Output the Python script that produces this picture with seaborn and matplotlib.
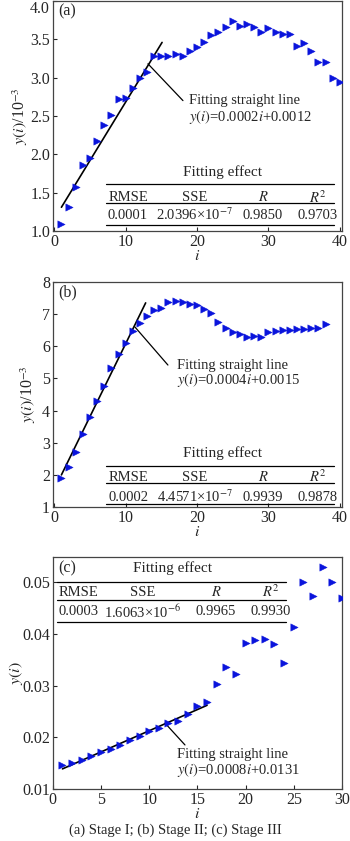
import numpy as np
import pandas as pd
import matplotlib
matplotlib.use("Agg")
import matplotlib.pyplot as plt
import seaborn as sns

# ==================== data ====================
i_a = list(range(1, 41))
y_a = [1.09, 1.31, 1.58, 1.86, 1.95, 2.17, 2.38, 2.51, 2.72, 2.73,
       2.86, 3.00, 3.07, 3.28, 3.28, 3.28, 3.31, 3.28, 3.35, 3.40,
       3.46, 3.56, 3.59, 3.66, 3.74, 3.67, 3.70, 3.66, 3.60, 3.65,
       3.59, 3.57, 3.57, 3.41, 3.45, 3.35, 3.20, 3.21, 3.00, 2.95]
fit_a_x = [1, 15.1]
fit_a_y = [1.31, 3.46]

i_b = list(range(1, 39))
y_b = [1.90, 2.26, 2.70, 3.27, 3.80, 4.30, 4.77, 5.32, 5.77, 6.10,
       6.48, 6.72, 6.93, 7.12, 7.20, 7.38, 7.41, 7.38, 7.33, 7.27,
       7.15, 7.03, 6.76, 6.57, 6.45, 6.39, 6.30, 6.33, 6.30, 6.45,
       6.48, 6.50, 6.50, 6.53, 6.55, 6.57, 6.58, 6.70]
fit_b_x = [1, 12.8]
fit_b_y = [2.0, 7.35]

i_c = list(range(1, 31))
y_c = [0.0146, 0.0150, 0.0156, 0.0163, 0.0171, 0.0178, 0.0186, 0.0194, 0.0202, 0.0212,
       0.0219, 0.0227, 0.0231, 0.0246, 0.0260, 0.0268, 0.0304, 0.0337, 0.0323, 0.0382,
       0.0388, 0.0390, 0.0380, 0.0344, 0.0413, 0.0500, 0.0473, 0.0530, 0.0500, 0.0469]
fit_c_x = [1, 16]
fit_c_y = [0.0139, 0.0262]

table_header = ["RMSE", "SSE", "$R$", r"$R^{\mathrm{2}}$"]
table_a = ["0.0001", r"2.0396×10$^{\mathrm{-7}}$", "0.9850", "0.9703"]
table_b = ["0.0002", r"4.4571×10$^{\mathrm{-7}}$", "0.9939", "0.9878"]
table_c = ["0.0003", r"1.6063×10$^{\mathrm{-6}}$", "0.9965", "0.9930"]

eq_a = "$y(i)$=0.0002$i$+0.0012"
eq_b = "$y(i)$=0.0004$i$+0.0015"
eq_c = "$y(i)$=0.0008$i$+0.0131"

# ==================== style ====================
sns.set_theme(style="ticks")
plt.rcParams['font.family'] = ['Liberation Serif', 'DejaVu Serif']
plt.rcParams['mathtext.fontset'] = 'stix'
plt.rcParams['mathtext.default'] = 'it'

BLUE = "#0a14dc"
FS = 10.5     # text
TS = 11.5     # ticks
YLAB = r"$y(i)$/10$^{\mathrm{-3}}$"

fig = plt.figure(figsize=(3.5, 8.41), dpi=100)
ax_a = fig.add_axes([0.151, 0.7253, 0.826, 0.2735])
ax_b = fig.add_axes([0.151, 0.3971, 0.826, 0.2676])
ax_c = fig.add_axes([0.151, 0.0618, 0.826, 0.2759])


def draw_panel(ax, x, y, fx, fy):
    df = pd.DataFrame({"i": x, "y": y})
    sns.scatterplot(data=df, x="i", y="y", ax=ax, marker=">", s=28,
                    color=BLUE, edgecolor=BLUE, linewidth=0.3, zorder=3)
    sns.lineplot(x=fx, y=fy, ax=ax, color="black", linewidth=1.2, zorder=2)
    ax.tick_params(direction="in", length=3, width=0.8, labelsize=TS, pad=2)
    for s in ax.spines.values():
        s.set_color("#444444")
        s.set_linewidth(0.9)
    ax.set_xlabel("$i$", fontsize=TS, labelpad=-1)


def draw_table(ax, vals, x0, x1, ytitle, ytop, yhead, ymid, yval, ybot, cols, xtitle):
    ax.text(xtitle, ytitle, "Fitting effect", transform=ax.transAxes,
            ha="center", va="center", fontsize=FS + 0.5)
    for yy in (ytop, ymid, ybot):
        ax.plot([x0, x1], [yy, yy], transform=ax.transAxes, color="black",
                linewidth=0.9, clip_on=False)
    for cx, h, v in zip(cols, table_header, vals):
        ax.text(cx, yhead, h, transform=ax.transAxes, ha="center", va="center", fontsize=FS)
        ax.text(cx, yval, v, transform=ax.transAxes, ha="center", va="center", fontsize=FS)


def draw_note(ax, p0, p1, tx, ty1, ty2, eq):
    ax.plot([p0[0], p1[0]], [p0[1], p1[1]], transform=ax.transAxes,
            color="black", linewidth=0.9)
    ax.text(tx, ty1, "Fitting straight line", transform=ax.transAxes,
            ha="left", va="center", fontsize=FS)
    ax.text(tx, ty2, eq, transform=ax.transAxes, ha="left", va="center", fontsize=FS)


# --- (a) ---
draw_panel(ax_a, i_a, y_a, fit_a_x, fit_a_y)
ax_a.set_xlim(-0.2, 40.3)
ax_a.set_ylim(1.0, 4.0)
ax_a.set_xticks([0, 10, 20, 30, 40])
ax_a.set_yticks([1.0, 1.5, 2.0, 2.5, 3.0, 3.5, 4.0])
ax_a.set_yticklabels(["1.0", "1.5", "2.0", "2.5", "3.0", "3.5", "4.0"])
ax_a.get_yticklabels()[-1].set_va("top")
ax_a.set_ylabel(YLAB, fontsize=TS, labelpad=0)
ax_a.text(0.02, 0.955, "(a)", transform=ax_a.transAxes, fontsize=TS, va="center")
draw_note(ax_a, (0.329, 0.727), (0.45, 0.567), 0.471, 0.567, 0.494, eq_a)
draw_table(ax_a, table_a, 0.183, 0.972, 0.255, 0.203, 0.147, 0.121, 0.069, 0.026,
           [0.26, 0.491, 0.727, 0.917], 0.587)

# --- (b) ---
draw_panel(ax_b, i_b, y_b, fit_b_x, fit_b_y)
ax_b.set_xlim(-0.2, 40.3)
ax_b.set_ylim(1, 8)
ax_b.set_xticks([0, 10, 20, 30, 40])
ax_b.set_yticks([1, 2, 3, 4, 5, 6, 7, 8])
ax_b.set_ylabel(YLAB, fontsize=TS, labelpad=3)
ax_b.text(0.02, 0.955, "(b)", transform=ax_b.transAxes, fontsize=TS, va="center")
draw_note(ax_b, (0.284, 0.80), (0.398, 0.631), 0.429, 0.631, 0.564, eq_b)
draw_table(ax_b, table_b, 0.183, 0.972, 0.24, 0.182, 0.133, 0.107, 0.044, 0.012,
           [0.26, 0.491, 0.727, 0.917], 0.587)

# --- (c) ---
draw_panel(ax_c, i_c, y_c, fit_c_x, fit_c_y)
ax_c.set_xlim(0, 30)
ax_c.set_ylim(0.01, 0.0549)
ax_c.set_xticks([0, 5, 10, 15, 20, 25, 30])
ax_c.set_yticks([0.01, 0.02, 0.03, 0.04, 0.05])
ax_c.set_ylabel("$y(i)$", fontsize=TS, labelpad=-2)
ax_c.text(0.02, 0.953, "(c)", transform=ax_c.transAxes, fontsize=TS, va="center")
draw_note(ax_c, (0.388, 0.284), (0.457, 0.19), 0.429, 0.147, 0.082, eq_c)
draw_table(ax_c, table_c, 0.014, 0.806, 0.953, 0.892, 0.849, 0.815, 0.763, 0.72,
           [0.09, 0.311, 0.564, 0.754], 0.415)

fig.text(0.5, 0.013, "(a) Stage I; (b) Stage II; (c) Stage III",
         ha="center", va="center", fontsize=FS)

fig.savefig("out.png", dpi=100)
